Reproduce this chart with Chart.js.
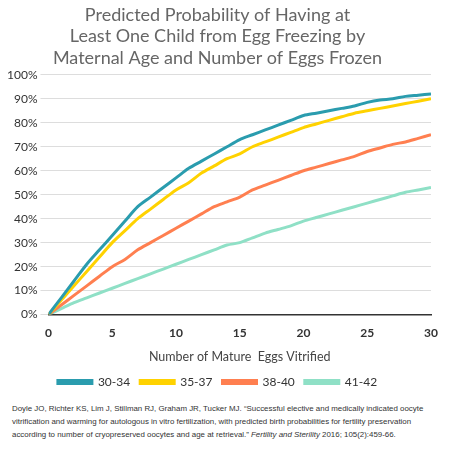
<!DOCTYPE html>
<html><head><meta charset="utf-8">
<script src="https://cdn.jsdelivr.net/npm/chart.js@4"></script>
<style>
body{margin:0;background:#fff;font-family:Lato,"Open Sans",sans-serif;}
#wrap{width:449px;height:398px;position:relative;}
#cite{font-family:"Liberation Sans",Arial,sans-serif;font-size:7.9px;color:#333;line-height:13px;margin:4px 0 0 12px;width:432px;}
</style></head><body>
<div id="wrap"><canvas id="c"></canvas></div>
<div id="cite">Doyle JO, Richter KS, Lim J, Stillman RJ, Graham JR, Tucker MJ. “Successful elective and medically indicated oocyte vitrification and warming for autologous in vitro fertilization, with predicted birth probabilities for fertility preservation according to number of cryopreserved oocytes and age at retrieval.” <i>Fertility and Sterility</i> 2016; 105(2):459-66.</div>
<script>
const eggs = Array.from({length:31},(_,i)=>i);
const seriesNames = ['30-34','35-37','38-40','41-42'];
const s3034 = [0,7,14,21,27,33,39,45,49,53,57,61,64,67,70,73,75,77,79,81,83,84,85,86,87,88.5,89.5,90,91,91.5,92];
const s3537 = [0,6,12,18,24,30,35,40,44,48,52,55,59,62,65,67,70,72,74,76,78,79.5,81,82.5,84,85,86,87,88,89,90];
const s3840 = [0,4,8,12,16,20,23,27,30,33,36,39,42,45,47,49,52,54,56,58,60,61.5,63,64.5,66,68,69.5,71,72,73.5,75];
const s4142 = [0,2.5,5,7,9,11,13,15,17,19,21,23,25,27,29,30,32,34,35.5,37,39,40.5,42,43.5,45,46.5,48,49.5,51,52,53];
const colors = ['#2a9cae','#ffd200','#ff7f50','#8fe0c6'];
const data = [s3034,s3537,s3840,s4142];
new Chart(document.getElementById('c'),{
 type:'line',
 data:{labels:eggs,datasets:data.map((d,i)=>({label:seriesNames[i],data:d.map((v,j)=>({x:j,y:v})),borderColor:colors[i],backgroundColor:colors[i],borderWidth:3,pointRadius:0,tension:0.3}))},
 options:{responsive:true,maintainAspectRatio:false,animation:false,
  layout:{padding:{left:4,right:18,top:4}},
  plugins:{
   title:{display:true,text:['Predicted Probability of Having at','Least One Child from Egg Freezing by','Maternal Age and Number of Eggs Frozen'],color:'#666',font:{size:18,family:'Lato',weight:'normal'},padding:{top:0,bottom:6},lineHeight:1.33},
   legend:{position:'bottom',labels:{boxWidth:34,boxHeight:3,color:'#333',font:{size:12,family:'Lato'},padding:10}}
  },
  scales:{
   x:{type:'linear',min:0,max:30,ticks:{stepSize:5,color:'#333',font:{size:12,weight:'bold',family:'Lato'}},grid:{display:false},border:{color:'#333',width:1.5},
      title:{display:true,text:'Number of Mature  Eggs Vitrified',color:'#444',font:{size:12.5,family:'Lato'},padding:{top:6,bottom:2}}},
   y:{min:0,max:100,ticks:{stepSize:10,color:'#333',font:{size:12,family:'Lato'},callback:v=>v+'%'},grid:{color:'#ddd'},border:{display:false}}
  }}
});
</script></body></html>
